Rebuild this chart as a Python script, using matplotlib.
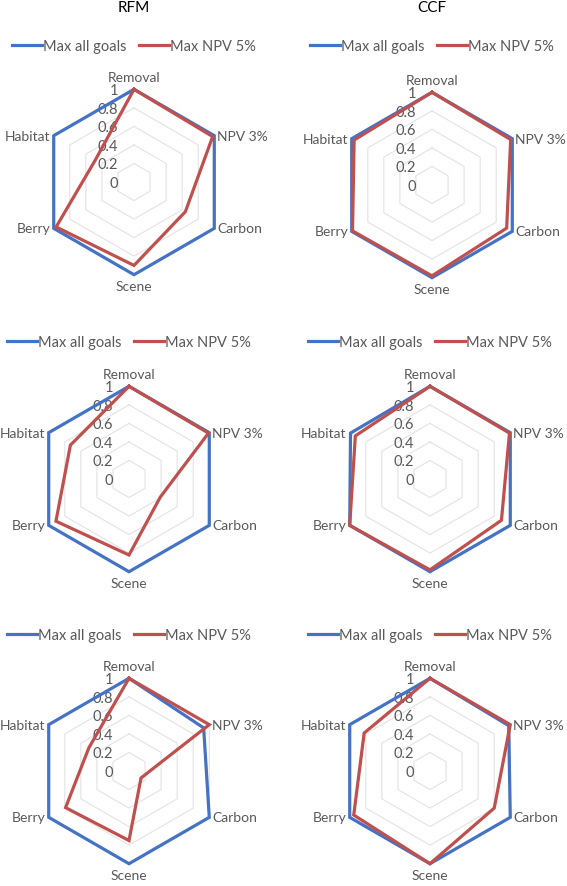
import numpy as np
import matplotlib.pyplot as plt
import matplotlib.transforms as mtransforms
from matplotlib.lines import Line2D

plt.rcParams['font.family'] = ['Lato', 'DejaVu Sans']

categories = ['Removal', 'NPV 3%', 'Carbon', 'Scene', 'Berry', 'Habitat']
series_names = ['Max all goals', 'Max NPV 5%']
col_titles = ['RFM', 'CCF']

# rows of panels, left = RFM, right = CCF
rfm1_all = [1.00, 1.00, 1.00, 1.00, 1.00, 1.00]
rfm1_npv = [1.00, 0.98, 0.64, 0.90, 0.97, 0.48]
ccf1_all = [1.00, 1.00, 1.00, 1.00, 1.00, 1.00]
ccf1_npv = [1.00, 0.98, 0.93, 0.98, 0.99, 0.97]

rfm2_all = [1.00, 1.00, 1.00, 1.00, 1.00, 1.00]
rfm2_npv = [1.00, 0.99, 0.39, 0.82, 0.91, 0.73]
ccf2_all = [1.00, 1.00, 1.00, 1.00, 1.00, 0.99]
ccf2_npv = [1.00, 0.99, 0.89, 0.98, 1.00, 0.93]

rfm3_all = [1.00, 0.93, 1.00, 1.00, 1.00, 1.00]
rfm3_npv = [1.00, 1.00, 0.15, 0.75, 0.79, 0.50]
ccf3_all = [1.00, 0.98, 1.00, 1.00, 1.00, 1.00]
ccf3_npv = [1.00, 1.00, 0.80, 1.00, 0.95, 0.82]

r_ticks = [0, 0.2, 0.4, 0.6, 0.8, 1]
r_tick_labels = ['0', '0.2', '0.4', '0.6', '0.8', '1']

panels = [(rfm1_all, rfm1_npv), (ccf1_all, ccf1_npv),
          (rfm2_all, rfm2_npv), (ccf2_all, ccf2_npv),
          (rfm3_all, rfm3_npv), (ccf3_all, ccf3_npv)]

W, H = 567, 887
# panel centres and radius in pixels
centers = [(134, 183), (432, 186), (129, 480), (430, 480), (129, 772), (430, 772)]
radius = 92.7
legend_y = [47, 47, 343, 343, 636, 636]

blue = '#4472C4'
red = '#C0504D'
grey_text = '#595959'
grid_col = '#E3E3E3'
fs = 10.5
fs_cat = 10

fig = plt.figure(figsize=(W / 100, H / 100), dpi=100)

angles = np.linspace(0, 2 * np.pi, len(categories), endpoint=False)
closed = np.append(angles, angles[0])

for i, (vals_all, vals_npv) in enumerate(panels):
    cx, cy = centers[i]
    ax = fig.add_axes([(cx - radius) / W, (H - cy - radius) / H,
                       2 * radius / W, 2 * radius / H], projection='polar')
    ax.set_theta_offset(np.pi / 2)
    ax.set_theta_direction(-1)
    ax.set_ylim(0, 1)
    ax.set_axis_off()

    # hexagon grid
    for lv in r_ticks[1:]:
        ax.plot(closed, [lv] * len(closed), color=grid_col, lw=0.8,
                clip_on=False, zorder=1)

    ax.plot(closed, np.append(vals_all, vals_all[0]), color=blue, lw=2.3,
            solid_joinstyle='miter', clip_on=False, zorder=3)
    ax.plot(closed, np.append(vals_npv, vals_npv[0]), color=red, lw=2.3,
            solid_joinstyle='miter', clip_on=False, zorder=4)

    # radial value labels, left of the top spoke
    off = mtransforms.offset_copy(ax.transData, fig=fig, x=-16, y=-1, units='dots')
    for lv, lab in zip(r_ticks, r_tick_labels):
        ax.text(0, lv, lab, transform=off, ha='right', va='center',
                fontsize=fs, color=grey_text, zorder=2)

    # category labels
    for ang, cat in zip(angles, categories):
        deg = np.degrees(ang)
        if deg < 1:
            ha, va, dx, dy = 'center', 'bottom', 0, 6
        elif abs(deg - 180) < 1:
            ha, va, dx, dy = 'center', 'top', 0, -5
        elif deg < 180:
            ha, va, dx, dy = 'left', 'center', 3, 0
        else:
            ha, va, dx, dy = 'right', 'center', -3, 0
        tr = mtransforms.offset_copy(ax.transData, fig=fig, x=dx, y=dy, units='dots')
        ax.text(ang, 1.0, cat, transform=tr, ha=ha, va=va, fontsize=fs_cat,
                color=grey_text)

    handles = [Line2D([], [], color=blue, lw=2.3),
               Line2D([], [], color=red, lw=2.3)]
    ax.legend(handles, series_names, loc='center', ncol=2, frameon=False,
              bbox_to_anchor=(cx / W, 1 - legend_y[i] / H),
              bbox_transform=fig.transFigure, fontsize=fs,
              handlelength=2.0, handletextpad=0.08, columnspacing=0.9,
              labelcolor=grey_text)

    if i < 2:
        fig.text(cx / W, 1 - 8 / H, col_titles[i], ha='center', va='center',
                 fontsize=fs + 0.5, color='black')

fig.savefig('out.png', dpi=100, facecolor='white')
